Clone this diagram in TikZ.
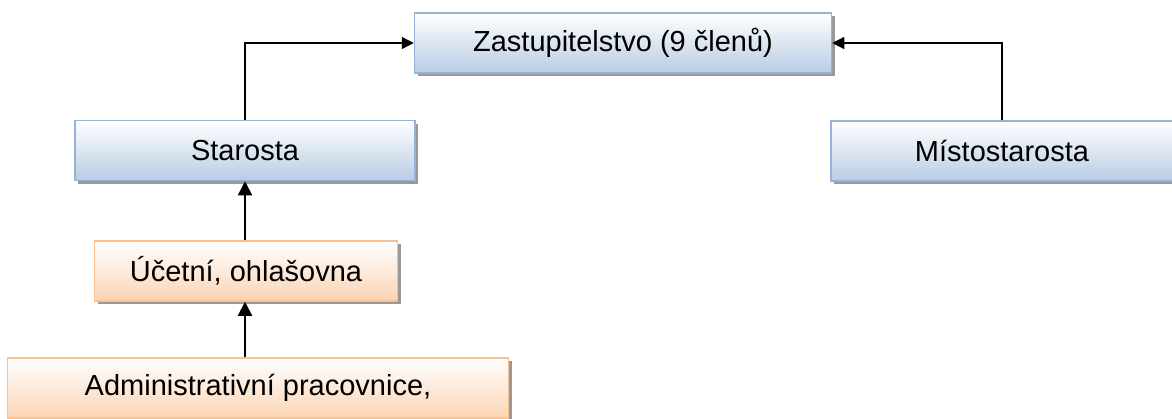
\documentclass[tikz,border=0pt]{standalone}
\usepackage{fontspec}
\setmainfont{Liberation Sans}
\usetikzlibrary{arrows.meta,shadows}
\definecolor{rimblue}{HTML}{95B3D7}
\definecolor{fillblue}{HTML}{B8CCE4}
\definecolor{rimorange}{HTML}{FAC090}
\definecolor{fillorange}{HTML}{FBD4B4}
\begin{document}
\begin{tikzpicture}[x=1pt,y=-1pt]
    \tikzstyle{bluebox}=[rectangle, draw=rimblue, line width=1.5pt, top color=white, bottom color=fillblue,
                         minimum height=60pt, inner sep=0pt, font=\fontsize{29}{34}\selectfont,
                         drop shadow={shadow xshift=3pt, shadow yshift=-3pt, fill=gray!80, opacity=1}]
    \tikzstyle{orangebox}=[bluebox, draw=rimorange, bottom color=fillorange]
    \tikzstyle{thinlink}=[line width=1.3pt, -{Triangle[length=12pt,width=12pt]}]
    \tikzstyle{thicklink}=[line width=2pt, -{Triangle[length=14pt,width=14pt]}]
    \useasboundingbox (0,0) rectangle (1172,418);

    \node[bluebox, minimum width=417pt] (zast) at (623,43) {Zastupitelstvo (9 členů)};
    \node[bluebox, minimum width=340pt] (star) at (245,150.5) {Starosta};
    \node[bluebox, minimum width=342pt] (mist) at (1002,151) {Místostarosta};
    \node[orangebox, minimum width=303pt] (ucet) at (246,271) {Účetní, ohlašovna};
    \node[orangebox, minimum width=501pt] (admin) at (258,388) {Administrativní pracovnice,};

    \draw[thinlink] (star.north) |- (zast.west);
    \draw[thinlink] (mist.north) |- (zast.east);
    \draw[thicklink] (ucet.north -| star) -- (star.south);
    \draw[thicklink] (admin.north -| star) -- (ucet.south -| star);

\end{tikzpicture}
\end{document}
